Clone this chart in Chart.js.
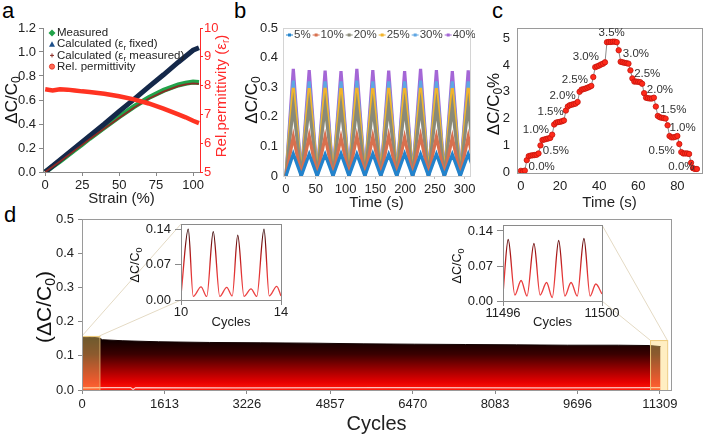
<!DOCTYPE html>
<html>
<head>
<meta charset="utf-8">
<script src="https://cdn.jsdelivr.net/npm/chart.js@4.4.0/dist/chart.umd.min.js"></script>
<style>
    body { margin: 0; background: #fff; width: 708px; height: 436px; position: relative; overflow: hidden;
           font-family: "Liberation Sans", Arial, sans-serif; }
    canvas { position: absolute; }
    .tag { position: absolute; font-size: 22px; line-height: 22px; color: #000; }
</style>
</head>
<body>
<div class="tag" style="left:2px;top:0px">a</div>
<div class="tag" style="left:234px;top:0px">b</div>
<div class="tag" style="left:492px;top:0px">c</div>
<div class="tag" style="left:4px;top:204px">d</div>

<canvas id="ca" width="240" height="210" style="left:0;top:0"></canvas>
<canvas id="cb" width="240" height="212" style="left:235px;top:0"></canvas>
<canvas id="cc" width="233" height="212" style="left:475px;top:0"></canvas>
<canvas id="cd" width="708" height="236" style="left:0;top:200px"></canvas>
<canvas id="ciL" width="165" height="125" style="left:125px;top:215px"></canvas>
<canvas id="ciR" width="185" height="125" style="left:445px;top:215px"></canvas>

<script>
//
// Data
//

// panel a
const strainA = [0, 5, 10, 15, 20, 25, 30, 40, 50, 60, 70, 80, 90, 95, 100, 104]
const measuredA = [0, 0.045, 0.09, 0.137, 0.185, 0.232, 0.28, 0.37, 0.46, 0.545, 0.62, 0.68, 0.725, 0.74, 0.75, 0.745]
const calcFixedA = [0, 0.05, 0.1, 0.15, 0.2, 0.25, 0.3, 0.4, 0.505, 0.605, 0.71, 0.81, 0.915, 0.965, 1.015, 1.035]
const calcMeasA = [0, 0.043, 0.088, 0.134, 0.18, 0.226, 0.273, 0.362, 0.45, 0.535, 0.61, 0.67, 0.715, 0.73, 0.738, 0.735]
const permA = [7.87, 7.83, 7.87, 7.86, 7.83, 7.8, 7.78, 7.72, 7.63, 7.52, 7.38, 7.2, 7.0, 6.9, 6.78, 6.7]
const xTicksA = [0, 25, 50, 75, 100]
const yTicksA = [0, 0.2, 0.4, 0.6, 0.8, 1.0, 1.2]
const y1TicksA = [5, 6, 7, 8, 9, 10]

// panel b
const labelsB = ['5%', '10%', '20%', '25%', '30%', '40%']
const peakTimesB = [12.3, 39, 65.7, 92.4, 119, 145.8, 172.5, 199.2, 226, 252.6, 279.3, 306]
const valleyTimesB = [0, 25.7, 52.4, 79, 105.8, 132.5, 159.2, 186, 212.6, 239.3, 266, 292.6, 319]
const peaks5 = [0.075, 0.074, 0.073, 0.075, 0.074, 0.075, 0.073, 0.075, 0.074, 0.074, 0.073, 0.074]
const peaks10 = [0.133, 0.135, 0.133, 0.13, 0.135, 0.133, 0.135, 0.13, 0.135, 0.133, 0.13, 0.133]
const peaks20 = [0.235, 0.237, 0.235, 0.232, 0.235, 0.233, 0.235, 0.235, 0.237, 0.235, 0.233, 0.235]
const peaks25 = [0.298, 0.297, 0.298, 0.297, 0.298, 0.297, 0.298, 0.297, 0.298, 0.297, 0.297, 0.298]
const peaks30 = [0.322, 0.32, 0.32, 0.32, 0.322, 0.32, 0.32, 0.32, 0.322, 0.32, 0.32, 0.32]
const peaks40 = [0.362, 0.358, 0.356, 0.354, 0.362, 0.358, 0.356, 0.354, 0.362, 0.358, 0.354, 0.357]
const xTicksB = [0, 50, 100, 150, 200, 250, 300]
const yTicksB = [0, 0.1, 0.2, 0.3, 0.4, 0.5]

// panel c (one reading per second)
const valuesC = [
    0.05, 0.03, 0.06, 0.45, 0.6, 0.62, 0.63, 0.64, 0.65, 0.7,
    1.0, 1.2, 1.22, 1.24, 1.26, 1.28, 1.4, 1.78, 1.85, 1.87,
    1.88, 1.9, 1.93, 2.3, 2.45, 2.5, 2.52, 2.54, 2.56, 2.62,
    3.0, 3.08, 3.1, 3.12, 3.15, 3.18, 3.22, 3.55, 3.92, 3.95,
    3.98, 4.02, 4.05, 4.1, 4.85, 4.86, 4.86, 4.87, 4.87, 4.85,
    4.55, 4.12, 4.1, 4.08, 4.07, 4.05, 3.8, 3.5, 3.38, 3.38,
    3.37, 3.36, 3.3, 2.95, 2.78, 2.76, 2.75, 2.75, 2.78, 2.45,
    2.1, 2.05, 2.03, 2.02, 2.0, 1.75, 1.35, 1.3, 1.3, 1.32,
    1.35, 1.05, 0.75, 0.7, 0.7, 0.7, 0.68, 0.35, 0.15, 0.12,
    0.12,
]
const stepTextC = ['0.0%', '0.5%', '1.0%', '1.5%', '2.0%', '2.5%', '3.0%', '3.5%',
                   '3.0%', '2.5%', '2.0%', '1.5%', '1.0%', '0.5%', '0.0%']
const stepTimeC = [10.6, 17.9, 7.7, 15.2, 21.3, 27.6, 33.2, 46.4, 58.8, 64.6, 71.1, 77.9, 82.7, 72, 82.1]
const stepValC = [0.21, 0.78, 1.57, 2.24, 2.84, 3.45, 4.3, 5.19, 4.41, 3.68, 3.06, 2.34, 1.67, 0.8, 0.21]
const xTicksC = [0, 20, 40, 60, 80]
const yTicksC = [0, 1, 2, 3, 4, 5]

// panel d
const cyclesD = [0, 150, 340, 400, 800, 1500, 2500, 3500, 4500, 5500, 6500, 7500, 8500, 9500, 10500, 11100, 11320]
const upperD = [0.153, 0.155, 0.152, 0.147, 0.144, 0.141, 0.139, 0.138, 0.137, 0.135, 0.134, 0.133, 0.132, 0.131, 0.131, 0.13, 0.127]
const lowCyclesD = [0, 500, 950, 1000, 1050, 3000, 6000, 9000, 11320]
const lowerD = [0.006, 0.007, 0.007, 0.0015, 0.007, 0.006, 0.007, 0.006, 0.007]
const xTicksD = [0, 1613, 3226, 4857, 6470, 8083, 9696, 11309]
const yTicksD = [0, 0.1, 0.2, 0.3, 0.4, 0.5]
const zoomCyclesL = [0, 340]
const zoomTopL = 0.158
const zoomCyclesR = [11115, 11450]
const zoomTopR = 0.146

// insets
const cyclesL = [10, 10.29, 10.49, 10.8, 11.03, 11.29, 11.55, 11.83, 12.05, 12.27, 12.52, 12.8, 13.03, 13.32, 13.53, 13.83, 14]
const insetL = [0.01, 0.14, 0.007, 0.026, 0.007, 0.135, 0.007, 0.025, 0.008, 0.128, 0.007, 0.022, 0.007, 0.14, 0.008, 0.027, 0.008]
const cyclesR = [11496, 11496.21, 11496.48, 11496.73, 11496.97, 11497.25, 11497.5, 11497.76, 11497.99,
                 11498.25, 11498.5, 11498.75, 11499, 11499.27, 11499.52, 11499.75, 11500]
const insetR = [0.014, 0.123, 0.012, 0.041, 0.01, 0.115, 0.012, 0.037, 0.007, 0.121, 0.01, 0.037, 0.01, 0.125, 0.01, 0.034, 0.014]
const yTicksInset = [0, 0.07, 0.14]

//
// Helpers
//

const FONT = '"Liberation Sans", Arial, sans-serif'
Chart.defaults.font.family = FONT
Chart.defaults.font.size = 13
Chart.defaults.color = '#222'
Chart.defaults.animation = false
Chart.defaults.responsive = false
Chart.defaults.devicePixelRatio = 1
Chart.defaults.plugins.legend.display = false
Chart.defaults.plugins.tooltip.enabled = false
Chart.defaults.elements.point.radius = 0

const pts = (xs, ys) => xs.map((x, i) => ({ x, y: ys[i] }))
const setTicks = (vals) => (s) => { s.ticks = vals.map((v) => ({ value: v })) }
function fitBox (w, h) {
    return (s) => {
        if (w != null) s.width = w
        if (h != null) s.height = h
        s.paddingLeft = s.paddingRight = s.paddingTop = s.paddingBottom = 0
    }
}
function triangle (peaks) {
    const out = []
    valleyTimesB.forEach((t, i) => {
        out.push({ x: t, y: 0 })
        if (i < peaks.length) out.push({ x: peakTimesB[i], y: peaks[i] })
    })
    return out
}

// text with subscripts, centred on (x, y)
function drawRich (ctx, parts, x, y, size, color, rotate) {
    const sub = Math.round(size * 0.68)
    ctx.save()
    ctx.translate(x, y)
    if (rotate) ctx.rotate(-Math.PI / 2)
    ctx.fillStyle = color
    ctx.textBaseline = 'middle'
    ctx.textAlign = 'left'
    let w = 0
    for (const [t, s] of parts) {
        ctx.font = `${s ? sub : size}px ${FONT}`
        w += ctx.measureText(t).width
    }
    let cx = -w / 2
    for (const [t, s] of parts) {
        ctx.font = `${s ? sub : size}px ${FONT}`
        ctx.fillText(t, cx, s ? size * 0.3 : 0)
        cx += ctx.measureText(t).width
    }
    ctx.restore()
}

function drawRichLeft (ctx, parts, x, y, size, color) {
    const sub = Math.round(size * 0.7)
    ctx.save()
    ctx.fillStyle = color
    ctx.textBaseline = 'middle'
    let cx = x
    for (const [t, s] of parts) {
        ctx.font = `${s ? sub : size}px ${FONT}`
        ctx.fillText(t, cx, s ? y + size * 0.3 : y)
        cx += ctx.measureText(t).width
    }
    ctx.restore()
}

const framePlugin = {
    id: 'frame',
    afterDraw (chart, args, opts) {
        if (!opts.color) return
        const { left, top, right, bottom } = chart.chartArea
        const ctx = chart.ctx
        ctx.save()
        ctx.strokeStyle = opts.color
        ctx.lineWidth = 1
        ctx.strokeRect(Math.round(left) + 0.5, Math.round(top) + 0.5, Math.round(right - left), Math.round(bottom - top))
        ctx.restore()
    },
}
Chart.register(framePlugin)

const plainAxis = (color) => ({
    grid: { drawOnChartArea: false, drawTicks: true, tickLength: 4, color },
    border: { color },
})
const noGrid = { display: false, drawTicks: false, tickLength: 0 }

//
// Panel a
//

const colorsA = ['#22a34a', '#14284a', '#8a2c24', '#ff3322']

new Chart(document.getElementById('ca'), {
    type: 'line',
    data: {
        datasets: [
            { data: pts(strainA, measuredA), borderColor: colorsA[0], borderWidth: 5, order: 3, yAxisID: 'y' },
            { data: pts(strainA, calcFixedA), borderColor: colorsA[1], borderWidth: 5, order: 2, yAxisID: 'y' },
            { data: pts(strainA, calcMeasA), borderColor: colorsA[2], borderWidth: 1.8, order: 1, yAxisID: 'y' },
            { data: pts(strainA, permA), borderColor: colorsA[3], borderWidth: 4.5, order: 0, yAxisID: 'y1' },
        ],
    },
    options: {
        layout: { padding: { top: 28 } },
        scales: {
            x: {
                type: 'linear', min: -1.5, max: 104.7,
                afterFit: fitBox(null, 38), afterBuildTicks: setTicks(xTicksA),
                ...plainAxis('#888'),
                ticks: { padding: 2, callback: (v) => String(v) },
                title: { display: true, text: 'Strain (%)', font: { size: 15 }, color: '#222', padding: { top: 0, bottom: 2 } },
            },
            y: {
                position: 'left', min: 0, max: 1.2,
                afterFit: fitBox(43), afterBuildTicks: setTicks(yTicksA),
                ...plainAxis('#888'),
                ticks: { padding: 3, callback: (v) => v.toFixed(1) },
            },
            y1: {
                position: 'right', min: 5, max: 10,
                afterFit: fitBox(40), afterBuildTicks: setTicks(y1TicksA),
                grid: { drawOnChartArea: false, tickLength: 3, color: '#ff2a2a' },
                border: { color: '#ff2a2a' },
                ticks: { padding: 1, color: '#ff2a2a', callback: (v) => String(v) },
            },
        },
    },
    plugins: [{
        id: 'textA',
        afterDraw (chart) {
            const ctx = chart.ctx
            const a = chart.chartArea
            drawRich(ctx, [['ΔC/C'], ['0', 1]], a.left - 31, 100, 17, '#111', true)
            drawRich(ctx, [['Rel.permittivity (ε'], ['r', 1], [')']], a.right + 22, 96, 15, '#ff2a2a', true)
            // legend
            const rows = [
                [['Measured']],
                [['Calculated (ε'], ['r', 1], [' fixed)']],
                [['Calculated (ε'], ['r', 1], [' measured)']],
                [['Rel. permittivity']],
            ]
            rows.forEach((parts, i) => {
                const y = a.top + 5 + i * 11.2
                const x = a.left + 9
                ctx.save()
                ctx.fillStyle = colorsA[i]
                ctx.strokeStyle = colorsA[i]
                ctx.beginPath()
                if (i === 0) {
                    ctx.moveTo(x, y - 3.5); ctx.lineTo(x + 3.5, y); ctx.lineTo(x, y + 3.5); ctx.lineTo(x - 3.5, y)
                    ctx.closePath(); ctx.fill()
                } else if (i === 1) {
                    ctx.fillStyle = '#1d4f8a'
                    ctx.moveTo(x, y - 3); ctx.lineTo(x + 3, y + 2.5); ctx.lineTo(x - 3, y + 2.5)
                    ctx.closePath(); ctx.fill()
                } else if (i === 2) {
                    ctx.lineWidth = 1
                    ctx.moveTo(x - 2, y); ctx.lineTo(x + 2, y); ctx.moveTo(x, y - 2); ctx.lineTo(x, y + 2)
                    ctx.stroke()
                } else {
                    ctx.fillStyle = '#ff6a55'
                    ctx.arc(x, y, 2.6, 0, Math.PI * 2); ctx.fill()
                    ctx.lineWidth = 0.8; ctx.strokeStyle = '#e02a1a'; ctx.stroke()
                }
                ctx.restore()
                drawRichLeft(ctx, parts, x + 5, y, 11.5, '#222')
            })
        },
    }],
})

//
// Panel b
//

const colorsB = ['#2383cc', '#d8704e', '#8a8a78', '#f2b42c', '#5fa6e3', '#a466d6']
const peaksB = [peaks5, peaks10, peaks20, peaks25, peaks30, peaks40]

new Chart(document.getElementById('cb'), {
    type: 'line',
    data: {
        datasets: peaksB.map((p, i) => ({
            label: labelsB[i], data: triangle(p), borderColor: colorsB[i], borderWidth: 3.2,
        })),
    },
    options: {
        layout: { padding: { top: 28, right: 5 } },
        plugins: { frame: { color: '#d4d4d4' } },
        scales: {
            x: {
                type: 'linear', min: -5, max: 309,
                afterFit: fitBox(null, 36), afterBuildTicks: setTicks(xTicksB),
                grid: { drawOnChartArea: false, tickLength: 3, color: '#bbb' },
                border: { color: '#bbb' },
                ticks: { padding: 3, callback: (v) => String(v) },
                title: { display: true, text: 'Time (s)', font: { size: 15 }, color: '#222', padding: 0 },
            },
            y: {
                min: 0, max: 0.5,
                afterFit: fitBox(48), afterBuildTicks: setTicks(yTicksB),
                grid: noGrid,
                border: { display: false },
                ticks: { padding: 5, callback: (v) => (v === 0 ? '0' : v.toFixed(1)) },
            },
        },
    },
    plugins: [{
        id: 'textB',
        afterDraw (chart) {
            const ctx = chart.ctx
            const a = chart.chartArea
            drawRich(ctx, [['ΔC/C'], ['0', 1]], a.left - 31, 100, 17, '#111', true)
            // legend row inside the plot
            ctx.save()
            ctx.font = `11.5px ${FONT}`
            ctx.textBaseline = 'middle'
            let x = a.left + 3
            const y = a.top + 7
            labelsB.forEach((t, i) => {
                ctx.strokeStyle = colorsB[i]
                ctx.fillStyle = colorsB[i]
                ctx.lineWidth = 1
                ctx.beginPath(); ctx.moveTo(x, y); ctx.lineTo(x + 7, y); ctx.stroke()
                ctx.fillRect(x + 2, y - 1.5, 3, 3)
                x += 8
                ctx.fillStyle = '#404040'
                ctx.fillText(t, x, y)
                x += ctx.measureText(t).width + 2
            })
            ctx.restore()
        },
    }],
})

//
// Panel c
//

new Chart(document.getElementById('cc'), {
    type: 'line',
    data: {
        datasets: [{
            data: valuesC.map((v, i) => ({ x: i, y: v })),
            borderColor: '#8a8a8a', borderWidth: 1,
            pointRadius: 2.7, pointBackgroundColor: '#ff2a1a', pointBorderColor: '#c4140c', pointBorderWidth: 0.8,
        }],
    },
    options: {
        layout: { padding: { top: 28, right: 6 } },
        plugins: { frame: { color: '#9a9a9a' } },
        scales: {
            x: {
                type: 'linear', min: -2, max: 92.6,
                afterFit: fitBox(null, 39), afterBuildTicks: setTicks(xTicksC),
                grid: noGrid, border: { color: '#9a9a9a' },
                ticks: { padding: 6, callback: (v) => String(v) },
                title: { display: true, text: 'Time (s)', font: { size: 15 }, color: '#222', padding: 0 },
            },
            y: {
                min: -0.03, max: 5.38,
                afterFit: fitBox(42), afterBuildTicks: setTicks(yTicksC),
                grid: noGrid, border: { color: '#9a9a9a' },
                ticks: { padding: 7, callback: (v) => String(v) },
            },
        },
    },
    plugins: [{
        id: 'textC',
        afterDraw (chart) {
            const ctx = chart.ctx
            const a = chart.chartArea
            drawRich(ctx, [['ΔC/C'], ['0', 1], ['%']], a.left - 23, 104, 17, '#111', true)
            ctx.save()
            ctx.font = `11.5px ${FONT}`
            ctx.fillStyle = '#333'
            ctx.textAlign = 'center'
            ctx.textBaseline = 'middle'
            stepTextC.forEach((t, i) => {
                ctx.fillText(t, chart.scales.x.getPixelForValue(stepTimeC[i]), chart.scales.y.getPixelForValue(stepValC[i]))
            })
            ctx.restore()
        },
    }],
})

//
// Insets
//

function insetGradient (chart) {
    const y = chart.scales.y
    const g = chart.ctx.createLinearGradient(0, y.getPixelForValue(0.14), 0, y.getPixelForValue(0))
    g.addColorStop(0, '#2a0606')
    g.addColorStop(0.35, '#b01818')
    g.addColorStop(0.6, '#e23434')
    g.addColorStop(1, '#f04848')
    return g
}

function makeInset (id, xs, ys, xTicks, yMax, leftW, bottomH, pad) {
    return new Chart(document.getElementById(id), {
        type: 'line',
        data: {
            datasets: [{
                data: pts(xs, ys), borderWidth: 1.3, cubicInterpolationMode: 'monotone',
                borderColor: (c) => (c.chart.chartArea ? insetGradient(c.chart) : '#e23434'),
            }],
        },
        options: {
            layout: { padding: pad },
            plugins: { frame: { color: '#8a8a8a' } },
            scales: {
                x: {
                    type: 'linear', min: xTicks[0], max: xTicks[1],
                    afterFit: fitBox(null, bottomH), afterBuildTicks: setTicks(xTicks),
                    grid: { drawOnChartArea: false, tickLength: 5, color: '#8a8a8a' },
                    border: { color: '#8a8a8a' },
                    ticks: { padding: 0, font: { size: 13 }, callback: (v) => String(v) },
                    title: { display: true, text: 'Cycles', font: { size: 13 }, color: '#222', padding: { top: 0, bottom: 9.5 } },
                },
                y: {
                    min: 0, max: yMax,
                    afterFit: fitBox(leftW), afterBuildTicks: setTicks(yTicksInset),
                    grid: { drawOnChartArea: false, tickLength: 6, color: '#8a8a8a' },
                    border: { color: '#8a8a8a' },
                    ticks: { padding: 4, font: { size: 13 }, callback: (v) => v.toFixed(2) },
                },
            },
        },
        plugins: [{
            id: 'insetTitle',
            afterDraw (chart) {
                const a = chart.chartArea
                drawRich(chart.ctx, [['ΔC/C'], ['0', 1]], a.left - 45, (a.top + a.bottom) / 2 + 3, 12.5, '#111', true)
            },
        }],
    })
}

const insetLeft = makeInset('ciL', cyclesL, insetL, [10, 14], 0.15, 56, 40, { top: 9, right: 9 })
const insetRight = makeInset('ciR', cyclesR, insetR, [11496, 11500], 0.152, 58, 39, { top: 10, right: 28 })

//
// Panel d
//

new Chart(document.getElementById('cd'), {
    type: 'line',
    data: {
        datasets: [
            {
                data: pts(cyclesD, upperD), borderColor: '#140404', borderWidth: 1, fill: 'origin', order: 1,
                backgroundColor: (c) => {
                    const { chart } = c
                    if (!chart.chartArea) return '#800000'
                    const y = chart.scales.y
                    const g = chart.ctx.createLinearGradient(0, y.getPixelForValue(0.15), 0, y.getPixelForValue(0))
                    g.addColorStop(0, '#0a0000')
                    g.addColorStop(0.3, '#3a0000')
                    g.addColorStop(0.6, '#9c0000')
                    g.addColorStop(0.85, '#e80000')
                    g.addColorStop(1, '#ff1a0a')
                    return g
                },
            },
            { data: pts(lowCyclesD, lowerD), borderColor: 'rgba(255,225,225,0.85)', borderWidth: 1.2, order: 0 },
        ],
    },
    options: {
        layout: { padding: { top: 19, right: 37 } },
        plugins: { frame: { color: '#9a9a9a' } },
        scales: {
            x: {
                type: 'linear', min: 0, max: 11525,
                afterFit: fitBox(null, 46), afterBuildTicks: setTicks(xTicksD),
                ...plainAxis('#8a8a8a'),
                ticks: { padding: 3, callback: (v) => String(v) },
                title: { display: true, text: 'Cycles', font: { size: 20 }, color: '#222', padding: 0 },
            },
            y: {
                min: 0, max: 0.5,
                afterFit: fitBox(82), afterBuildTicks: setTicks(yTicksD),
                ...plainAxis('#8a8a8a'),
                ticks: { padding: 4, callback: (v) => v.toFixed(1) },
            },
        },
    },
    plugins: [{
        id: 'zoomD',
        afterDatasetsDraw (chart) {
            const ctx = chart.ctx
            const { x, y } = chart.scales
            const ox = chart.canvas.offsetLeft
            const oy = chart.canvas.offsetTop
            const corner = (inset, sx, sy) => {
                const a = inset.chartArea
                return [inset.canvas.offsetLeft - ox + (sx ? a.right : a.left), inset.canvas.offsetTop - oy + (sy ? a.bottom : a.top)]
            }
            const boxes = [[zoomCyclesL, zoomTopL], [zoomCyclesR, zoomTopR]]
            const px = boxes.map(([cx, top]) => ({
                l: x.getPixelForValue(cx[0]), r: x.getPixelForValue(cx[1]),
                t: y.getPixelForValue(top), b: y.getPixelForValue(0),
            }))
            ctx.save()
            // connector lines
            ctx.strokeStyle = '#e4dac4'
            ctx.lineWidth = 1
            const links = [
                [[px[0].l, px[0].t], corner(insetLeft, 0, 0)],
                [[px[0].r, px[0].t], corner(insetLeft, 0, 1)],
                [[px[1].r, px[1].t], corner(insetRight, 1, 0)],
                [[px[1].l, px[1].t], corner(insetRight, 1, 1)],
            ]
            for (const [p, q] of links) {
                ctx.beginPath(); ctx.moveTo(p[0], p[1]); ctx.lineTo(q[0], q[1]); ctx.stroke()
            }
            // highlight boxes
            for (const b of px) {
                ctx.fillStyle = 'rgba(255, 214, 110, 0.42)'
                ctx.fillRect(b.l, b.t, b.r - b.l, b.b - b.t)
                ctx.strokeStyle = 'rgba(236, 200, 120, 0.95)'
                ctx.strokeRect(b.l + 0.5, b.t + 0.5, b.r - b.l, b.b - b.t)
            }
            ctx.restore()
        },
        afterDraw (chart) {
            drawRich(chart.ctx, [['(ΔC/C'], ['0', 1], [')']], chart.chartArea.left - 37, 107, 21, '#111', true)
        },
    }],
})
</script>
</body>
</html>
